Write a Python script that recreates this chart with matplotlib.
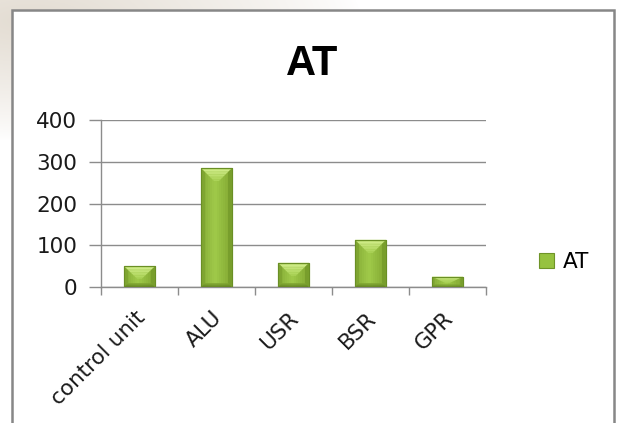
import numpy as np
import matplotlib
matplotlib.use("Agg")
import matplotlib.pyplot as plt
from matplotlib.patches import Rectangle, Polygon
from matplotlib.colors import to_rgb
from matplotlib.transforms import ScaledTranslation

# ---- data -------------------------------------------------------------
categories = ["control unit", "ALU", "USR", "BSR", "GPR"]
values = [50, 285, 58, 113, 25]
series_name = "AT"
y_ticks = [0, 100, 200, 300, 400]

# ---- figure -----------------------------------------------------------
W, H, DPI = 619, 423, 100
fig = plt.figure(figsize=(W / DPI, H / DPI), dpi=DPI)
fig.patch.set_facecolor("white")

# soft beige backdrop behind the chart frame
bg = fig.add_axes([0, 0, 1, 1], zorder=-10)
yy, xx = np.mgrid[0:H, 0:W]
r = np.hypot((xx - 30) / 330.0, (yy - 20) / 120.0)
tint = np.clip(1.0 - r, 0, 1)[..., None] ** 0.8
base = np.array(to_rgb("#ffffff"))
beige = np.array(to_rgb("#e3dcd2"))
img = base * (1 - tint) + beige * tint
bg.imshow(img, extent=[0, W, H, 0], aspect="auto")
bg.set_xlim(0, W)
bg.set_ylim(H, 0)
bg.axis("off")

# chart frame (white area with grey border)
frame = Rectangle((11.5 / W, -0.05), (613.5 - 11.5) / W, 1.05 - 10.5 / H,
                  transform=fig.transFigure, facecolor="white",
                  edgecolor="#878787", linewidth=1.8, zorder=-5)
fig.patches.append(frame)

# plot area
ax_l, ax_r, ax_t, ax_b = 101, 486, 120, 287
ax = fig.add_axes([ax_l / W, 1 - ax_b / H, (ax_r - ax_l) / W, (ax_b - ax_t) / H])
ax.set_facecolor("none")

n = len(categories)
x = np.arange(n)
ax.set_xlim(-0.5, n - 0.5)
ax.set_ylim(0, 400)

grid_c = "#8c8c8c"
ax.set_yticks(y_ticks)
ax.set_yticklabels([str(v) for v in y_ticks])
ax.yaxis.grid(True, color=grid_c, linewidth=1.0)
ax.set_axisbelow(True)

# major x ticks on the category boundaries, labels on the centres
ax.set_xticks(np.arange(-0.5, n, 1.0))
ax.set_xticklabels([])
ax.set_xticks(x, minor=True)
ax.set_xticklabels(categories, minor=True, rotation=45, ha="right",
                   rotation_mode="anchor")
ax.tick_params(axis="x", which="minor", length=0, pad=15)
ax.tick_params(axis="x", which="major", length=6, color=grid_c, width=1.0)
ax.tick_params(axis="y", length=9, color=grid_c, width=1.0, pad=8)

shift = ScaledTranslation(-5 / DPI, 0, fig.dpi_scale_trans)
for lab in ax.get_xticklabels(minor=True):
    lab.set_transform(lab.get_transform() + shift)

label_font = dict(family="DejaVu Sans", size=15.5)
for lab in ax.get_xticklabels(minor=True) + ax.get_yticklabels():
    lab.set_fontfamily(label_font["family"])
    lab.set_fontsize(label_font["size"])
    lab.set_color("#1a1a1a")

for s in ["top", "right"]:
    ax.spines[s].set_visible(False)
for s in ["left", "bottom"]:
    ax.spines[s].set_color(grid_c)
    ax.spines[s].set_linewidth(1.0)

# ---- bars with a bevelled look ---------------------------------------
bar_w = 0.4
body_c = "#96c23f"
bars = ax.bar(x, values, width=bar_w, color=body_c, edgecolor="#6f9428",
              linewidth=0.8, zorder=2, label=series_name)

fig.canvas.draw()
to_px = ax.transData
to_data = ax.transData.inverted()


def mix(c1, c2, t):
    return np.array(to_rgb(c1)) * (1 - t) + np.array(to_rgb(c2)) * t


for rect in bars:
    x0, y0 = rect.get_x(), rect.get_y()
    x1, y1 = x0 + rect.get_width(), y0 + rect.get_height()
    (px0, py0), (px1, py1) = to_px.transform([(x0, y0), (x1, y1)])
    wpx, hpx = px1 - px0, py1 - py0
    d = min(8.0, hpx / 2.0, wpx / 2.0)
    dt = min(13.0, hpx * 0.6, wpx / 2.0)

    def poly(pts, color, z=3):
        pts_d = to_data.transform(pts)
        ax.add_patch(Polygon(pts_d, closed=True, facecolor=color,
                             edgecolor="none", zorder=z))

    # horizontal shading of the front face
    strips = 14
    for k in range(strips):
        t = (k + 0.5) / strips
        shade = max(0.0, 1 - abs(t - 0.45) * 2.2)
        c = mix("#86ad36", "#9fc949", shade)
        xa = px0 + wpx * k / strips
        xb = px0 + wpx * (k + 1) / strips
        poly([(xa, py0), (xb, py0), (xb, py1), (xa, py1)], c, z=2.5)

    # side bevels
    poly([(px0, py0), (px0 + d * 0.5, py0 + d * 0.5), (px0 + d * 0.5, py1 - d * 0.5),
          (px0, py1)], "#7fa531")
    poly([(px1, py0), (px1 - d * 0.5, py0 + d * 0.5), (px1 - d * 0.5, py1 - d * 0.5),
          (px1, py1)], "#789e2c")
    # bottom bevel, fading darker towards the base
    layers = 6
    for k in range(layers):
        a, b = k / layers, (k + 1) / layers
        c = mix("#5b7c1c", "#86ad36", a)
        poly([(px0 + d * 0.5 * a, py0 + d * 0.5 * a), (px1 - d * 0.5 * a, py0 + d * 0.5 * a),
              (px1 - d * 0.5 * b, py0 + d * 0.5 * b), (px0 + d * 0.5 * b, py0 + d * 0.5 * b)], c)
    # top bevel: light wedge narrowing downwards
    layers = 8
    for k in range(layers):
        a, b = k / layers, (k + 1) / layers
        c = mix("#d2ee8c", "#a6cf50", a)
        sx = wpx * 0.42
        poly([(px0 + sx * a, py1 - dt * a), (px1 - sx * a, py1 - dt * a),
              (px1 - sx * b, py1 - dt * b), (px0 + sx * b, py1 - dt * b)], c)
    # crisp outline
    ax.add_patch(Rectangle((x0, y0), x1 - x0, y1 - y0, facecolor="none",
                           edgecolor="#6a8f25", linewidth=0.8, zorder=4))

# ---- title and legend -------------------------------------------------
fig.text(312 / W, 1 - 75 / H, "AT", ha="center", va="baseline",
         fontsize=30, fontweight="bold", family="Liberation Sans", color="black")

leg = fig.legend(handles=[bars], labels=[series_name], loc="center left",
                 bbox_to_anchor=(528 / W, 1 - 262 / H), frameon=False,
                 handlelength=0.72, handleheight=0.72, handletextpad=0.4,
                 borderpad=0, prop=dict(family="DejaVu Sans", size=15.5))
leg.legend_handles[0].set_facecolor("#96c23f")
leg.legend_handles[0].set_edgecolor("#6f9428")

fig.savefig("out.png", dpi=DPI, facecolor=fig.get_facecolor())
